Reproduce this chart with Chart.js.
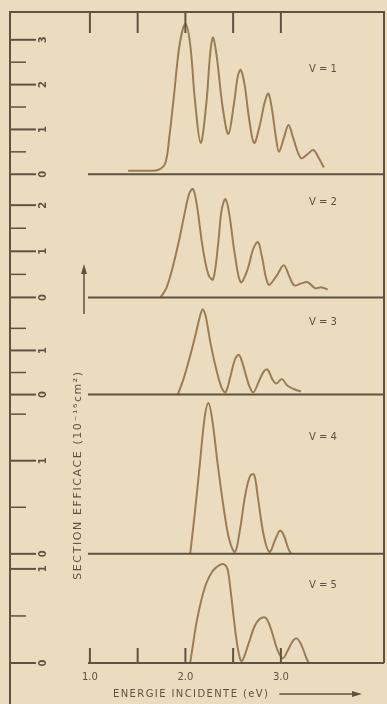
<!DOCTYPE html>
<html>
<head>
<meta charset="utf-8">
<script src="https://cdn.jsdelivr.net/npm/chart.js@4"></script>
<style>
  html, body { margin: 0; padding: 0; background: #ecdcbf; }
  #wrap { width: 387px; height: 704px; position: relative; }
</style>
</head>
<body>
<div id="wrap"><canvas id="sectionChart"></canvas></div>
<script>
// energie incidente (eV) / section efficace (10^-16 cm2), une paire par niveau v
const e1 = [1.40, 1.60, 1.72, 1.79, 1.83, 1.88, 1.94, 2.00, 2.05, 2.10, 2.16, 2.22, 2.26, 2.29, 2.33, 2.39, 2.45, 2.51, 2.55, 2.58, 2.62, 2.67, 2.72, 2.78, 2.83, 2.87, 2.91, 2.95, 2.98, 3.03, 3.08, 3.13, 3.21, 3.28, 3.34, 3.40, 3.45];
const s1 = [0.08, 0.08, 0.10, 0.25, 0.80, 1.75, 2.90, 3.35, 2.90, 1.65, 0.70, 1.60, 2.70, 3.05, 2.60, 1.50, 0.90, 1.60, 2.20, 2.33, 2.00, 1.20, 0.70, 1.10, 1.60, 1.80, 1.40, 0.80, 0.50, 0.80, 1.10, 0.80, 0.36, 0.45, 0.54, 0.35, 0.15];

const e2 = [1.74, 1.80, 1.86, 1.93, 1.99, 2.04, 2.08, 2.12, 2.18, 2.24, 2.29, 2.34, 2.38, 2.42, 2.46, 2.52, 2.58, 2.65, 2.71, 2.76, 2.80, 2.87, 2.95, 3.03, 3.09, 3.14, 3.21, 3.28, 3.36, 3.42, 3.49];
const s2 = [0.00, 0.20, 0.60, 1.20, 1.80, 2.25, 2.35, 2.00, 1.10, 0.50, 0.39, 1.10, 1.90, 2.13, 1.80, 0.90, 0.33, 0.60, 1.05, 1.20, 0.90, 0.28, 0.45, 0.70, 0.45, 0.26, 0.30, 0.33, 0.20, 0.22, 0.17];

const e3 = [1.92, 1.98, 2.04, 2.10, 2.15, 2.18, 2.21, 2.26, 2.32, 2.38, 2.42, 2.47, 2.52, 2.56, 2.60, 2.66, 2.71, 2.77, 2.82, 2.86, 2.91, 2.95, 3.01, 3.07, 3.14, 3.21];
const s3 = [0.00, 0.35, 0.80, 1.30, 1.75, 1.93, 1.80, 1.20, 0.60, 0.15, 0.05, 0.40, 0.80, 0.90, 0.70, 0.25, 0.05, 0.30, 0.52, 0.57, 0.35, 0.25, 0.35, 0.20, 0.12, 0.07];

const e4 = [2.05, 2.10, 2.15, 2.20, 2.24, 2.28, 2.34, 2.40, 2.46, 2.52, 2.57, 2.63, 2.68, 2.72, 2.76, 2.82, 2.88, 2.94, 2.99, 3.03, 3.08, 3.11];
const s4 = [0.00, 0.45, 0.95, 1.45, 1.62, 1.45, 0.95, 0.50, 0.15, 0.02, 0.25, 0.65, 0.84, 0.85, 0.60, 0.20, 0.02, 0.15, 0.25, 0.20, 0.05, 0.00];

const e5 = [2.05, 2.08, 2.12, 2.17, 2.22, 2.28, 2.34, 2.40, 2.44, 2.47, 2.51, 2.55, 2.59, 2.66, 2.72, 2.78, 2.84, 2.90, 2.96, 3.02, 3.08, 3.13, 3.17, 3.22, 3.26, 3.29];
const s5 = [0.00, 0.20, 0.45, 0.68, 0.85, 0.97, 1.03, 1.05, 1.00, 0.80, 0.45, 0.15, 0.02, 0.20, 0.38, 0.47, 0.48, 0.35, 0.15, 0.05, 0.15, 0.24, 0.26, 0.18, 0.07, 0.00];

const levels = ['V = 1', 'V = 2', 'V = 3', 'V = 4', 'V = 5'];
const yMax = [3.62, 2.67, 2.2, 1.71, 1.16];
const majorTicks = [[0, 1, 2, 3], [0, 1, 2], [0, 1], [0, 1], [0, 1]];
const minorTicks = [[0.5, 1.5, 2.5], [0.5, 1.5], [0.5, 1.5], [0.5, 1.5], [0.5]];
const xTicks = [1.0, 1.5, 2.0, 2.5, 3.0];
const xLabelled = [1.0, 2.0, 3.0];
const xTitle = 'ENERGIE INCIDENTE (eV)';
const yTitle = 'SECTION EFFICACE (10⁻¹⁶cm²)';

// where the "V = n" captions sit, in each panel's own units
const captionAt = [[3.44, 2.33], [3.44, 2.07], [3.44, 1.64], [3.44, 1.25], [3.44, 0.82]];
const panelWeight = [162, 123, 97, 159, 109];

const ink = '#5e5343';
const curveCol = '#9a7c56';

const energies = [e1, e2, e3, e4, e5];
const sections = [s1, s2, s3, s4, s5];

const datasets = energies.map((e, k) => ({
  label: levels[k],
  data: e.map((x, i) => ({ x: x, y: sections[k][i] })),
  yAxisID: 'y' + (k + 1),
  borderColor: curveCol,
  borderWidth: 2,
  pointRadius: 0,
  tension: 0.35,
  fill: false
}));

const scales = {
  x: {
    type: 'linear',
    min: 0.98,
    max: 4.08,
    afterBuildTicks: (axis) => { axis.ticks = xTicks.map(v => ({ value: v })); },
    ticks: {
      color: ink,
      font: { family: 'DejaVu Sans', size: 10 },
      padding: 0,
      maxRotation: 0,
      callback: (v) => xLabelled.includes(v) ? v.toFixed(1) : ''
    },
    grid: { display: false },
    border: { display: false }
  }
};
// stacked y axes, last defined is drawn on top
for (let k = 4; k >= 0; k--) {
  scales['y' + (k + 1)] = {
    type: 'linear',
    display: false,
    position: 'left',
    stack: 'panels',
    stackWeight: panelWeight[k],
    min: 0,
    max: yMax[k]
  };
}

const framePlugin = {
  id: 'frame',
  afterDraw(chart) {
    const ctx = chart.ctx;
    const area = chart.chartArea;
    const xs = chart.scales.x;
    const leftEdge = 10;
    ctx.save();
    ctx.strokeStyle = ink;
    ctx.fillStyle = ink;
    ctx.lineWidth = 2;

    // frame
    ctx.beginPath();
    ctx.moveTo(leftEdge, chart.height);
    ctx.lineTo(leftEdge, area.top);
    ctx.lineTo(area.right, area.top);
    ctx.lineTo(area.right, area.bottom);
    ctx.stroke();

    // energy ticks, top and bottom
    xTicks.forEach(v => {
      const px = xs.getPixelForValue(v);
      ctx.beginPath();
      ctx.moveTo(px, area.top);
      ctx.lineTo(px, area.top + 21);
      ctx.moveTo(px, area.bottom);
      ctx.lineTo(px, area.bottom - 15);
      ctx.stroke();
    });

    // panel base lines and left ruler
    for (let k = 0; k < 5; k++) {
      const ys = chart.scales['y' + (k + 1)];
      const py0 = ys.getPixelForValue(0);
      ctx.lineWidth = 2;
      ctx.beginPath();
      ctx.moveTo(area.left, py0);
      ctx.lineTo(area.right, py0);
      ctx.stroke();

      ctx.font = 'bold 10px "DejaVu Sans"';
      majorTicks[k].forEach(v => {
        const py = ys.getPixelForValue(v);
        ctx.beginPath();
        ctx.moveTo(leftEdge, py);
        ctx.lineTo(leftEdge + 26, py);
        ctx.stroke();
        ctx.save();
        ctx.translate(leftEdge + 33, py);
        ctx.rotate(-Math.PI / 2);
        ctx.textAlign = 'center';
        ctx.textBaseline = 'middle';
        ctx.fillText(String(v), 0, 0);
        ctx.restore();
      });
      ctx.lineWidth = 1.5;
      minorTicks[k].forEach(v => {
        const py = ys.getPixelForValue(v);
        ctx.beginPath();
        ctx.moveTo(leftEdge, py);
        ctx.lineTo(leftEdge + 16, py);
        ctx.stroke();
      });

      // caption
      ctx.save();
      ctx.font = '10px "DejaVu Sans"';
      ctx.textAlign = 'center';
      ctx.textBaseline = 'middle';
      ctx.fillText(levels[k], xs.getPixelForValue(captionAt[k][0]), ys.getPixelForValue(captionAt[k][1]));
      ctx.restore();
    }

    // y title, read from bottom to top
    ctx.save();
    ctx.translate(area.left - 10, 475);
    ctx.rotate(-Math.PI / 2);
    ctx.font = '11px "DejaVu Sans"';
    ctx.letterSpacing = '1.6px';
    ctx.textAlign = 'center';
    ctx.textBaseline = 'middle';
    ctx.fillText(yTitle, 0, 0);
    ctx.restore();

    // upward arrow above the y title
    const ax = area.left - 4;
    ctx.lineWidth = 1.5;
    ctx.beginPath();
    ctx.moveTo(ax, 314);
    ctx.lineTo(ax, 272);
    ctx.stroke();
    ctx.beginPath();
    ctx.moveTo(ax, 264);
    ctx.lineTo(ax - 3, 274);
    ctx.lineTo(ax + 3, 274);
    ctx.closePath();
    ctx.fill();

    // x title with its arrow
    ctx.save();
    ctx.font = '10px "DejaVu Sans"';
    ctx.letterSpacing = '1.4px';
    ctx.textAlign = 'left';
    ctx.textBaseline = 'middle';
    const tx = 113, ty = 694;
    ctx.fillText(xTitle, tx, ty);
    const tw = ctx.measureText(xTitle).width;
    ctx.restore();
    const a0 = tx + tw + 10, a1 = 362;
    ctx.lineWidth = 1.5;
    ctx.beginPath();
    ctx.moveTo(a0, ty);
    ctx.lineTo(a1 - 8, ty);
    ctx.stroke();
    ctx.beginPath();
    ctx.moveTo(a1, ty);
    ctx.lineTo(a1 - 10, ty - 3);
    ctx.lineTo(a1 - 10, ty + 3);
    ctx.closePath();
    ctx.fill();
    ctx.restore();
  }
};

new Chart(document.getElementById('sectionChart'), {
  type: 'line',
  data: { datasets: datasets },
  options: {
    responsive: true,
    maintainAspectRatio: false,
    animation: false,
    layout: { padding: { left: 88, right: 3, top: 12, bottom: 21 } },
    plugins: { legend: { display: false }, tooltip: { enabled: false } },
    scales: scales
  },
  plugins: [framePlugin]
});
</script>
</body>
</html>
